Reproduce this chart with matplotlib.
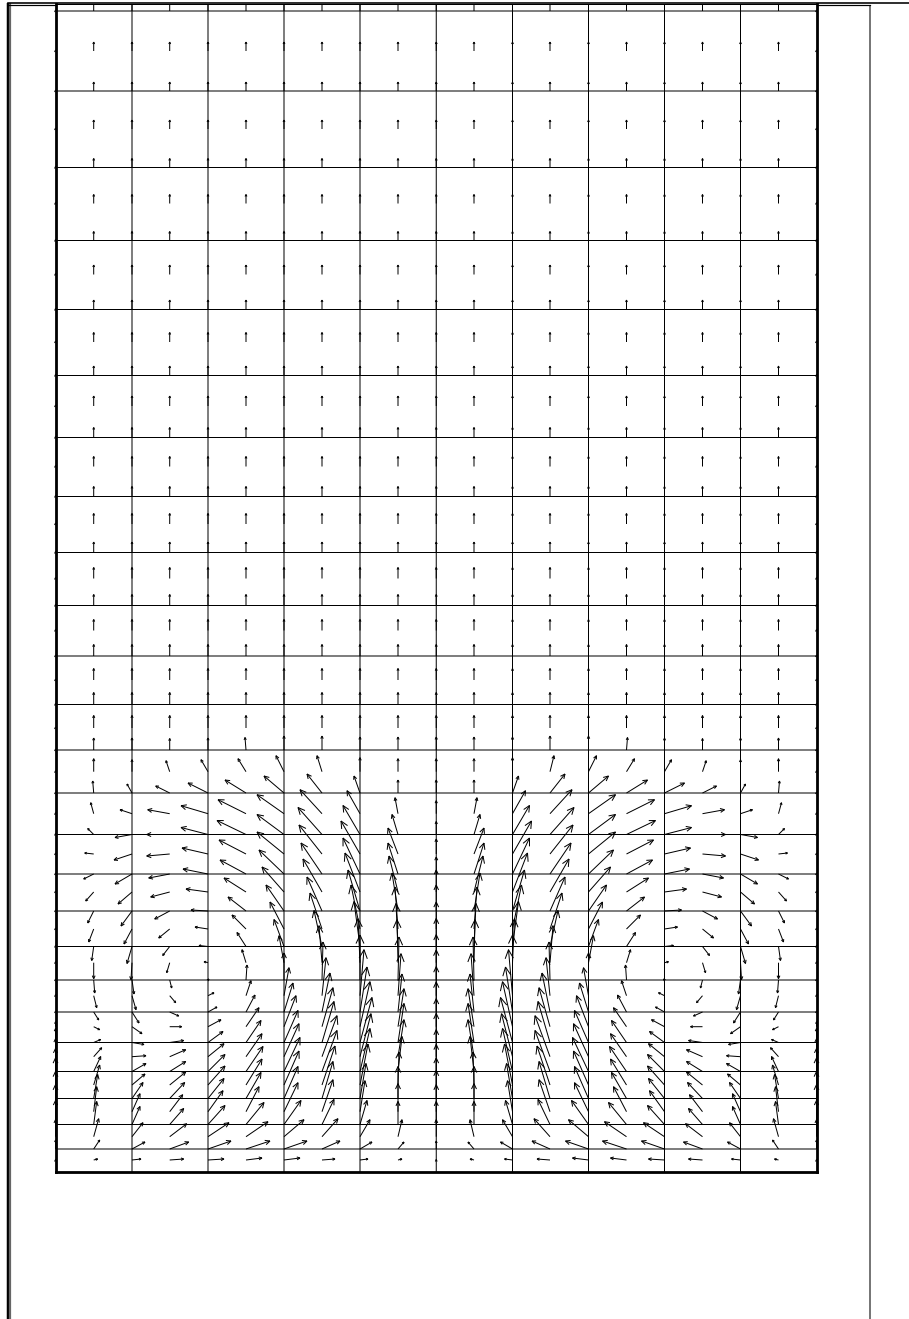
import numpy as np
import matplotlib

matplotlib.use("Agg")
import matplotlib.pyplot as plt
from matplotlib.patches import Rectangle

# velocity field, units are screen pixels of the arrow
x_stations = [0, 38.2, 76.5, 114.2, 152.5, 190.5, 228.5, 266.5, 304.5, 342.5, 380.75,
              418.5, 457, 494.5, 533, 571, 609, 647, 685, 723, 761]

# heights of the rows with arrows, wall to top; every second one carries a grid line
y_levels = [0, 12, 23, 35.3, 47.5, 60.3, 73.5, 87, 100.5, 115.3, 129.5, 145.3, 160, 176.3,
            192, 209.3, 225.5, 243, 261, 280, 298, 318, 337.5, 358.3, 379, 400.3, 422,
            444, 467.5, 492, 516, 541.5, 566.5, 593.5, 619.5, 648, 675.5, 705.5, 734.5,
            766, 796.5, 830, 862.5, 897.5, 931.5, 968.5, 1004.5, 1043, 1081, 1121, 1161]

# near field, bottom row first
u_near = [
    [0, 4, 9, 14, 16, 16, 16, 13, 8, 4, 0, -4, -8, -13, -16, -16, -16, -14, -9, -4, 0],
    [0, 6, 13, 19, 23, 24, 23, 18, 12, 6, 0, -6, -12, -18, -23, -24, -23, -19, -13, -6, 0],
    [0, 5, 11, 17, 21, 22, 20, 16, 10, 4, 0, -4, -10, -16, -20, -22, -21, -17, -11, -5, 0],
    [0, 3, 8, 14, 17, 18, 17, 12, 7, 0, 0, 0, -7, -12, -17, -18, -17, -14, -8, -3, 0],
    [0, 3, 8, 13, 15, 13, 14, 11, 5, 0, 0, 0, -5, -11, -14, -13, -15, -13, -8, -3, 0],
    [0, 4, 11, 15, 16, 15, 14, 11, 6, 0, 0, 0, -6, -11, -14, -15, -16, -15, -11, -4, 0],
    [0, 6, 13, 16, 17, 16, 15, 13, 8, 1, 0, -1, -8, -13, -15, -16, -17, -16, -13, -6, 0],
    [0, 7, 14, 16, 17, 17, 16, 15, 10, 4, 0, -4, -10, -15, -16, -17, -17, -16, -14, -7, 0],
    [0, 8, 14, 16, 16, 16, 15, 15, 11, 6, 0, -6, -11, -15, -15, -16, -16, -16, -14, -8, 0],
    [0, 7, 12, 14, 15, 15, 14, 12, 12, 6, 0, -6, -12, -12, -14, -15, -15, -14, -12, -7, 0],
    [0, 6, 10, 12, 13, 13, 12, 11, 10, 6, 0, -6, -10, -11, -12, -13, -13, -12, -10, -6, 0],
    [0, 5, 7, 9, 9, 9, 9, 8, 7, 4, 0, -4, -7, -8, -9, -9, -9, -9, -7, -5, 0],
    [0, 3, 4, 6, 6, 5, 5, 4, 4, 3, 0, -3, -4, -4, -5, -5, -6, -6, -4, -3, 0],
    [0, 1, 2, 2, 1, 1, 0, 1, 0, 1, 0, -1, 0, -1, 0, -1, -1, -2, -2, -1, 0],
    [0, 0, -1, -3, -4, -4, -5, -3, -2, -1, 0, 1, 2, 3, 5, 4, 4, 3, 1, 0, 0],
    [0, -2, -5, -7, -9, -9, -10, -8, -6, -2, 0, 2, 6, 8, 10, 9, 9, 7, 5, 2, 0],
    [0, -5, -8, -11, -13, -14, -14, -12, -9, -3, 0, 3, 9, 12, 14, 14, 13, 11, 8, 5, 0],
    [0, -6, -11, -15, -17, -18, -18, -15, -12, -6, 0, 6, 12, 15, 18, 18, 17, 15, 11, 6, 0],
    [0, -8, -14, -19, -22, -22, -22, -19, -15, -9, 0, 9, 15, 19, 22, 22, 22, 19, 14, 8, 0],
    [0, -10, -17, -21, -25, -26, -25, -21, -17, -10, 0, 10, 17, 21, 25, 26, 25, 21, 17, 10, 0],
    [0, -9, -18, -23, -26, -27, -27, -23, -19, -10, 0, 10, 19, 23, 27, 27, 26, 23, 18, 9, 0],
    [0, -6, -17, -23, -27, -29, -27, -24, -17, -6, 0, 6, 17, 24, 27, 29, 27, 23, 17, 6, 0],
    [0, -3, -12, -22, -27, -28, -27, -22, -13, -3, 0, 3, 13, 22, 27, 28, 27, 22, 12, 3, 0],
    [0, -1, -5, -14, -20, -21, -20, -15, -6, 0, 0, 0, 6, 15, 20, 21, 20, 14, 5, 1, 0],
    [0, 0, 0, -3.7, -7, -8, -8, -5, 0, 0, 0, 0, 0, 4, 8, 8, 7, 3.7, 0, 0, 0],
    [0, 0, 0, 0, 0, -1, 0, 0, 0, 0, 0, 0, 0, 0, 0, 1, 0, 0, 0, 0, 0],
]
v_near = [
    [0.5, 1, 1, 1, 1, 2, 2, 1, 1, 1, 0.5, 1, 1, 1, 2, 2, 1, 1, 1, 1, 0.5],
    [9, 9, 7, 7, 8, 8, 8, 8, 7, 7, 8, 7, 7, 8, 8, 8, 8, 7, 7, 9, 9],
    [17, 18, 14, 13, 14, 15, 17, 18, 17, 17, 17, 17, 17, 18, 17, 15, 14, 13, 14, 18, 17],
    [24, 23, 18, 16, 19, 22, 24, 25, 24, 23, 23, 23, 24, 25, 24, 22, 19, 16, 18, 23, 24],
    [27, 25, 18, 17, 21, 25, 29, 32, 31, 28, 27, 28, 31, 32, 29, 25, 21, 17, 18, 25, 27],
    [27, 24, 16, 16, 20, 26, 32, 37, 35, 32, 28, 32, 35, 37, 32, 26, 20, 16, 16, 24, 27],
    [27, 20, 11, 13, 19, 26, 34, 39, 41, 33, 27, 33, 41, 39, 34, 26, 19, 13, 11, 20, 27],
    [23, 15, 8, 10, 17, 25, 34, 41, 43, 35, 27, 35, 43, 41, 34, 25, 17, 10, 8, 15, 23],
    [18, 9, 1, 7, 13, 23, 33, 41, 43, 37, 27, 37, 43, 41, 33, 23, 13, 7, 1, 9, 18],
    [14, 3, -2, 2, 11, 22, 32, 41, 45, 39, 29, 39, 45, 41, 32, 22, 11, 2, -2, 3, 14],
    [5, -3, -7, 0, 7, 19, 31, 39, 45, 38, 28, 38, 45, 39, 31, 19, 7, 0, -7, -3, 5],
    [1, -8, -11, -4, 5, 17, 29, 39, 45, 38, 30, 38, 45, 39, 29, 17, 5, -4, -11, -8, 1],
    [1, -12, -14, -7, 3, 15, 28, 38, 46, 42, 29, 42, 46, 38, 28, 15, 3, -7, -14, -12, 1],
    [1, -13, -14, -8, 1, 15, 27, 38, 45, 43, 30, 43, 45, 38, 27, 15, 1, -8, -14, -13, 1],
    [1, -16, -17, -10, 1, 13, 27, 37, 44, 43, 28, 43, 44, 37, 27, 13, 1, -10, -17, -16, 1],
    [1, -14, -17, -9, 1, 14, 27, 36, 45, 43, 28, 43, 45, 36, 27, 14, 1, -9, -17, -14, 1],
    [1, -13, -15, -9, 2, 14, 27, 36, 44, 42, 27, 42, 44, 36, 27, 14, 2, -9, -15, -13, 1],
    [1, -12, -15, -8, 1, 14, 26, 34, 41, 38, 26, 38, 41, 34, 26, 14, 1, -8, -15, -12, 1],
    [1, -9, -12, -5, 3, 14, 25, 33, 39, 36, 22, 36, 39, 33, 25, 14, 3, -5, -12, -9, 1],
    [1, -5, -10, -4, 5, 14, 24, 31, 36, 31, 17, 31, 36, 31, 24, 14, 5, -4, -10, -5, 1],
    [1, 1, -6, -2, 6, 14, 22, 29, 33, 26, 15, 26, 33, 29, 22, 14, 6, -2, -6, 1, 1],
    [1, 6, -3, 0, 7, 14, 20, 27, 29, 20, 13, 20, 29, 27, 20, 14, 7, 0, -3, 6, 1],
    [1, 11, 4, 4, 8, 14, 19, 24, 23, 16, 13, 16, 23, 24, 19, 14, 8, 4, 4, 11, 1],
    [1, 12, 9, 7, 10, 13, 17, 19, 17, 13, 13, 13, 17, 19, 17, 13, 10, 7, 9, 12, 1],
    [1, 13, 12, 11, 12, 13, 16, 16, 14, 13, 13, 13, 14, 16, 16, 13, 12, 11, 12, 13, 1],
    [1, 12, 12, 11.5, 12, 12.5, 14, 14, 13, 13, 13, 13, 13, 14, 14, 12.5, 12, 11.5, 12, 12, 1],
]

# far field, one arrow length per row, bottom row first
v_far = [12.5, 12, 11.5, 11.5, 11, 11, 11, 10.5, 10.5, 10, 10, 10, 10, 9.5, 9.5, 9.5, 9.5,
         9, 9, 9, 9, 9, 9, 9]
v_far_wall = 1


def arrow_segments(x, y, u, v):
    # shaft plus two barbs, head grows with the arrow like in the original
    segs = []
    for xi, yi, ui, vi in zip(x, y, u, v):
        length = np.hypot(ui, vi)
        if length == 0:
            continue
        tip = np.array([xi + ui, yi + vi])
        back = -np.array([ui, vi]) / length
        head = max(0.21 * length, 2.2)
        segs.append([(xi, yi), tip])
        for ang in (np.radians(25), -np.radians(25)):
            c, s = np.cos(ang), np.sin(ang)
            barb = np.array([c * back[0] - s * back[1], s * back[0] + c * back[1]])
            segs.append([tip, tip + head * barb])
    return segs


W, H = 909, 1319
fig = plt.figure(figsize=(W / 100, H / 100), dpi=100)

# outer frame of the page
frame = fig.add_axes([0, 0, 1, 1])
frame.set_xlim(0, W)
frame.set_ylim(H, 0)
frame.axis("off")
px = 0.72
frame.plot([8, 8], [3, H], color="black", lw=2.5 * px, solid_capstyle="butt")
frame.plot([10.2, 10.2], [3, H], color="#666666", lw=2.2 * px, solid_capstyle="butt")
frame.plot([870, 870], [5, H], color="#777777", lw=2 * px, solid_capstyle="butt")
frame.plot([8, 870], [1318.5, 1318.5], color="#666666", lw=1 * px)
frame.plot([8, W], [3, 3], color="black", lw=1.6 * px)
frame.plot([8, 870], [5.2, 5.2], color="black", lw=1.2 * px)

ax = fig.add_axes([55.5 / W, (H - 1172) / H, 761 / W, 1168 / H])
ax.set_xlim(0, 761)
ax.set_ylim(0, 1168)
ax.set_xticks([])
ax.set_yticks([])
for side in ["left", "bottom", "right"]:
    ax.spines[side].set_linewidth(2.8 * px)
ax.spines["top"].set_linewidth(1 * px)

x_arr = np.array(x_stations)
y_arr = np.array(y_levels)

# grid, every second station and level
gl = ax.hlines(y_arr[2::2], 0, 761, color="black", lw=1 * px)
gv = ax.vlines(x_arr[2:-1:2], 0, 1168, color="black", lw=1 * px)
gl.set_snap(False)
gv.set_snap(False)

# arrows
U = np.array(u_near, dtype=float)
V = np.array(v_near, dtype=float)
y_near = y_arr[1:1 + len(u_near)]
XX, YY = np.meshgrid(x_arr, y_near)
segs = arrow_segments(XX.ravel(), YY.ravel(), U.ravel(), V.ravel())

y_far = y_arr[1 + len(u_near):]
for yi, vi in zip(y_far, v_far):
    v_row = np.full(len(x_arr), vi)
    v_row[0] = v_row[-1] = v_far_wall
    segs += arrow_segments(x_arr, np.full(len(x_arr), yi), np.zeros(len(x_arr)), v_row)

arrows = matplotlib.collections.LineCollection(segs, colors="black", linewidths=1.0 * px, zorder=3)
arrows.set_snap(False)
ax.add_collection(arrows)
# wall arrows stick out sideways over the frame, only the top is cut
arrows.set_clip_path(Rectangle((-10, -5), 781, 1173, transform=ax.transData))

fig.savefig("out.png", dpi=100)
